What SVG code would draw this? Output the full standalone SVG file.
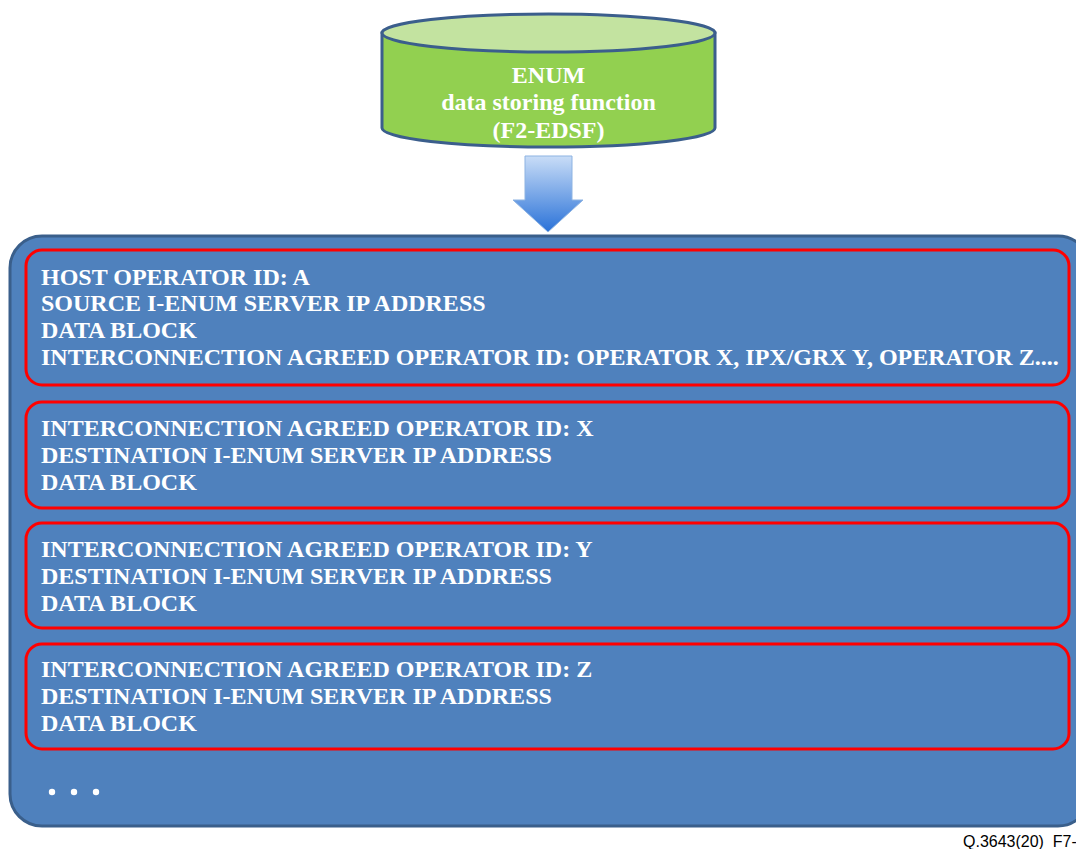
<svg xmlns="http://www.w3.org/2000/svg" width="1076" height="849" viewBox="0 0 1076 849">
<defs>
<linearGradient id="arrowGrad" x1="0" y1="0" x2="0" y2="1">
<stop offset="0" stop-color="#C9DDF7"/>
<stop offset="1" stop-color="#2A72D8"/>
</linearGradient>
<style>
.t{font-family:"Liberation Serif","Times New Roman",serif;font-weight:bold;fill:#FFFFFF;font-size:24px}
.red{fill:none;stroke:#FF0000;stroke-width:3}
</style>
</defs>
<rect width="1076" height="849" fill="#FFFFFF"/>
<g id="cylinder">
<path d="M382,33 L382,128 A166.5,19 0 0 0 715,128 L715,33 Z" fill="#92D050" stroke="#3B5E8C" stroke-width="3"/>
<ellipse cx="548.5" cy="33" rx="166.5" ry="19" fill="#C3E3A0" stroke="#3B5E8C" stroke-width="3"/>
<text class="t" x="548.5" y="83" text-anchor="middle">ENUM</text>
<text class="t" x="548.5" y="110" text-anchor="middle">data storing function</text>
<text class="t" x="548.5" y="138" text-anchor="middle">(F2-EDSF)</text>
</g>
<g id="connectors">
<path d="M525,156 L572,156 L572,200 L583,200 L548,232 L513,200 L525,200 Z" fill="url(#arrowGrad)" stroke="#8DB3E2" stroke-width="1"/>
</g>
<g id="container">
<rect x="10" y="236" width="1080" height="590" rx="32" fill="#4F81BD" stroke="#3A5F8B" stroke-width="3"/>
<circle cx="52" cy="792" r="3.2" fill="#FFFFFF"/>
<circle cx="74" cy="792" r="3.2" fill="#FFFFFF"/>
<circle cx="96" cy="792" r="3.2" fill="#FFFFFF"/>
</g>
<g id="box1">
<rect class="red" x="26" y="250" width="1043" height="135" rx="16"/>
<text class="t" x="41" y="285">HOST OPERATOR ID: A</text>
<text class="t" x="41" y="311">SOURCE I-ENUM SERVER IP ADDRESS</text>
<text class="t" x="41" y="338">DATA BLOCK</text>
<text class="t" x="41" y="365">INTERCONNECTION AGREED OPERATOR ID: OPERATOR X, IPX/GRX Y, OPERATOR Z....</text>
</g>
<g id="box2">
<rect class="red" x="26" y="402" width="1043" height="106" rx="16"/>
<text class="t" x="41" y="436">INTERCONNECTION AGREED OPERATOR ID: X</text>
<text class="t" x="41" y="463">DESTINATION I-ENUM SERVER IP ADDRESS</text>
<text class="t" x="41" y="490">DATA BLOCK</text>
</g>
<g id="box3">
<rect class="red" x="26" y="523" width="1043" height="105" rx="16"/>
<text class="t" x="41" y="557">INTERCONNECTION AGREED OPERATOR ID: Y</text>
<text class="t" x="41" y="584">DESTINATION I-ENUM SERVER IP ADDRESS</text>
<text class="t" x="41" y="611">DATA BLOCK</text>
</g>
<g id="box4">
<rect class="red" x="26" y="644" width="1043" height="105" rx="16"/>
<text class="t" x="41" y="677">INTERCONNECTION AGREED OPERATOR ID: Z</text>
<text class="t" x="41" y="704">DESTINATION I-ENUM SERVER IP ADDRESS</text>
<text class="t" x="41" y="731">DATA BLOCK</text>
</g>
<text x="963" y="847" font-family="Liberation Sans, Arial, sans-serif" font-size="16" fill="#000000">Q.3643(20)_F7-</text>
</svg>
